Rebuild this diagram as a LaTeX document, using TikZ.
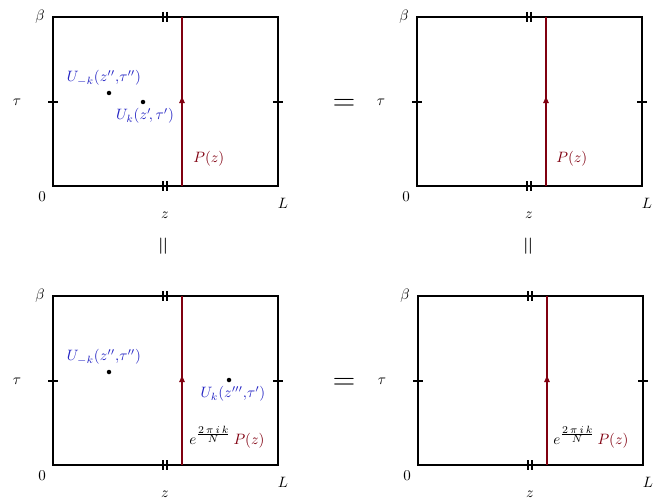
\documentclass[tikz,border=0pt]{standalone}
\usetikzlibrary{arrows.meta,decorations.markings}
\definecolor{wred}{RGB}{128,0,16}
\definecolor{ublue}{RGB}{35,35,195}
\newcommand\phasefac{e^{\frac{\scriptstyle 2\mkern3mu\pi\mkern3mu i\mkern3mu k}{\scriptstyle N}}}
\begin{document}
\begin{tikzpicture}[x=0.667pt,y=-0.667pt,
  boxline/.style={line width=1.2pt},
  tickline/.style={line width=1pt},
  wline/.style={wred,line width=1.2pt,postaction={decorate},
    decoration={markings,mark=at position 0.53 with {\arrow{Triangle[length=4.5pt,width=3.6pt]}}}},
  dot/.style={circle,fill=black,inner sep=0pt,minimum size=3pt},
  ulab/.style={text=ublue,inner sep=0pt},
  plab/.style={inner sep=0pt,anchor=west},
  panel/.pic={
    \draw[boxline] (0,0) rectangle (225,169);
    \draw[tickline] (-5,85)--(5,85) (220,85)--(230,85);
    \draw[tickline] (110,-5)--(110,5) (114,-5)--(114,5)
                    (110,164)--(110,174) (114,164)--(114,174);
    \draw[wline] (129,169) coordinate (-bot) -- (129,0) coordinate (-top);
    \node (-beta) at (-13,0) {$\beta$};
    \node (-tau) at (-36,85) {$\tau$};
    \node (-zero) at (-11,180) {$0$};
    \node (-L) at (230,186) {$L$};
    \node (-z) at (112,198) {$z$};
  }]
\useasboundingbox (0,0) rectangle (665,501);

% top-left
\pic (TL) at (53,17) {panel};
\node[dot] (TLd1) at (109,93) {};
\node[dot] (TLd2) at (143,102) {};
\node[ulab] (TLu1) at (104,78) {$U_{-k}(z'',\!\tau'')$};
\node[ulab] (TLu2) at (145,116) {$U_k(z'\!,\tau')$};
\node[plab,text=wred] (TLp) at (193,159) {$P(z)$};

% top-right
\pic (TR) at (417,17) {panel};
\node[plab,text=wred] (TRp) at (556,159) {$P(z)$};

% bottom-left
\pic (BL) at (53,296) {panel};
\node[dot] (BLd1) at (109,372) {};
\node[dot] (BLd2) at (229,380) {};
\node[ulab] (BLu1) at (104,357) {$U_{-k}(z'',\!\tau'')$};
\node[ulab] (BLu2) at (233,394) {$U_k(z''',\!\tau')$};
\node[plab] (BLp) at (189,437) {$\phasefac\,\textcolor{wred}{P(z)}$};

% bottom-right
\pic (BR) at (418,296) {panel};
\node[plab] (BRp) at (553,437) {$\phasefac\,\textcolor{wred}{P(z)}$};

% equalities
\node[font=\huge] (eqT) at (344,105) {$=$};
\node[font=\huge] (eqB) at (344,384) {$=$};
\node[font=\LARGE,rotate=90] (eqL) at (165,246) {$=$};
\node[font=\LARGE,rotate=90] (eqR) at (530,246) {$=$};
\end{tikzpicture}
\end{document}
